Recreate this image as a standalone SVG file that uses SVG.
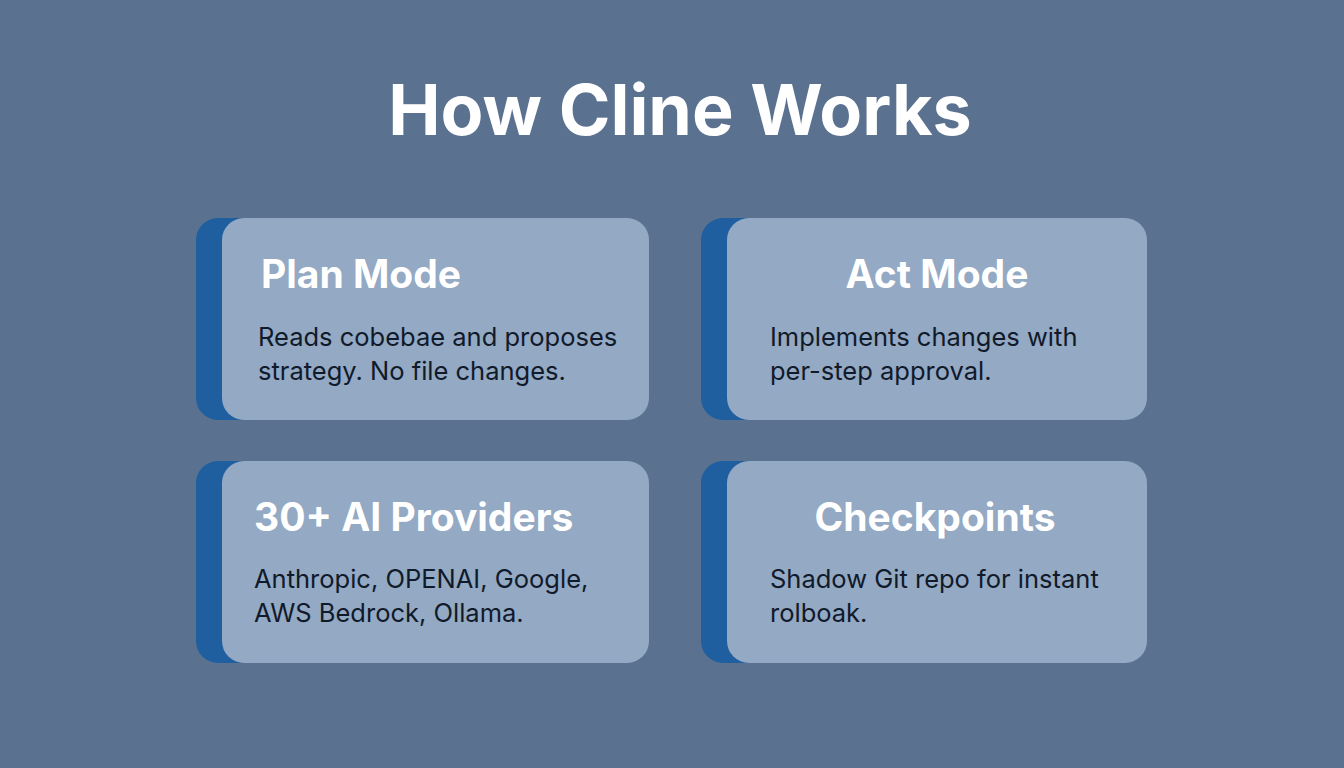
<svg xmlns="http://www.w3.org/2000/svg" width="1344" height="768" viewBox="0 0 1344 768">
<style>
.bar{fill:#1f5fa0}
.card{fill:#93a9c4}
.t{font-family:Inter,"Liberation Sans",sans-serif;font-weight:700;font-size:39px;fill:#ffffff}
.b{font-family:Inter,"Liberation Sans",sans-serif;font-size:25.5px;fill:#111a2a}
</style>
<rect width="1344" height="768" fill="#5a7190"/>
<text x="680" y="135" text-anchor="middle" font-family="Inter,'Liberation Sans',sans-serif" font-weight="700" font-size="70" fill="#ffffff">How Cline Works</text>
<g id="plan">
<rect class="bar" x="196" y="218" width="120" height="202" rx="22"/>
<rect class="card" x="222" y="218" width="427" height="202" rx="22"/>
<text class="t" x="261" y="288">Plan Mode</text>
<text class="b" x="258" y="346">Reads cobebae and proposes</text>
<text class="b" x="258" y="380">strategy. No file changes.</text>
</g>
<g id="act">
<rect class="bar" x="701" y="218" width="120" height="202" rx="22"/>
<rect class="card" x="727" y="218" width="420" height="202" rx="22"/>
<text class="t" x="937" y="288" text-anchor="middle">Act Mode</text>
<text class="b" x="770" y="346">Implements changes with</text>
<text class="b" x="770" y="380">per-step approval.</text>
</g>
<g id="providers">
<rect class="bar" x="196" y="461" width="120" height="202" rx="22"/>
<rect class="card" x="222" y="461" width="427" height="202" rx="22"/>
<text class="t" x="254" y="531">30+ AI Providers</text>
<text class="b" x="254" y="588">Anthropic, OPENAI, Google,</text>
<text class="b" x="254" y="622">AWS Bedrock, Ollama.</text>
</g>
<g id="checkpoints">
<rect class="bar" x="701" y="461" width="120" height="202" rx="22"/>
<rect class="card" x="727" y="461" width="420" height="202" rx="22"/>
<text class="t" x="935" y="531" text-anchor="middle">Checkpoints</text>
<text class="b" x="770" y="588">Shadow Git repo for instant</text>
<text class="b" x="770" y="622">rolboak.</text>
</g>
<g id="connectors"/>
</svg>
